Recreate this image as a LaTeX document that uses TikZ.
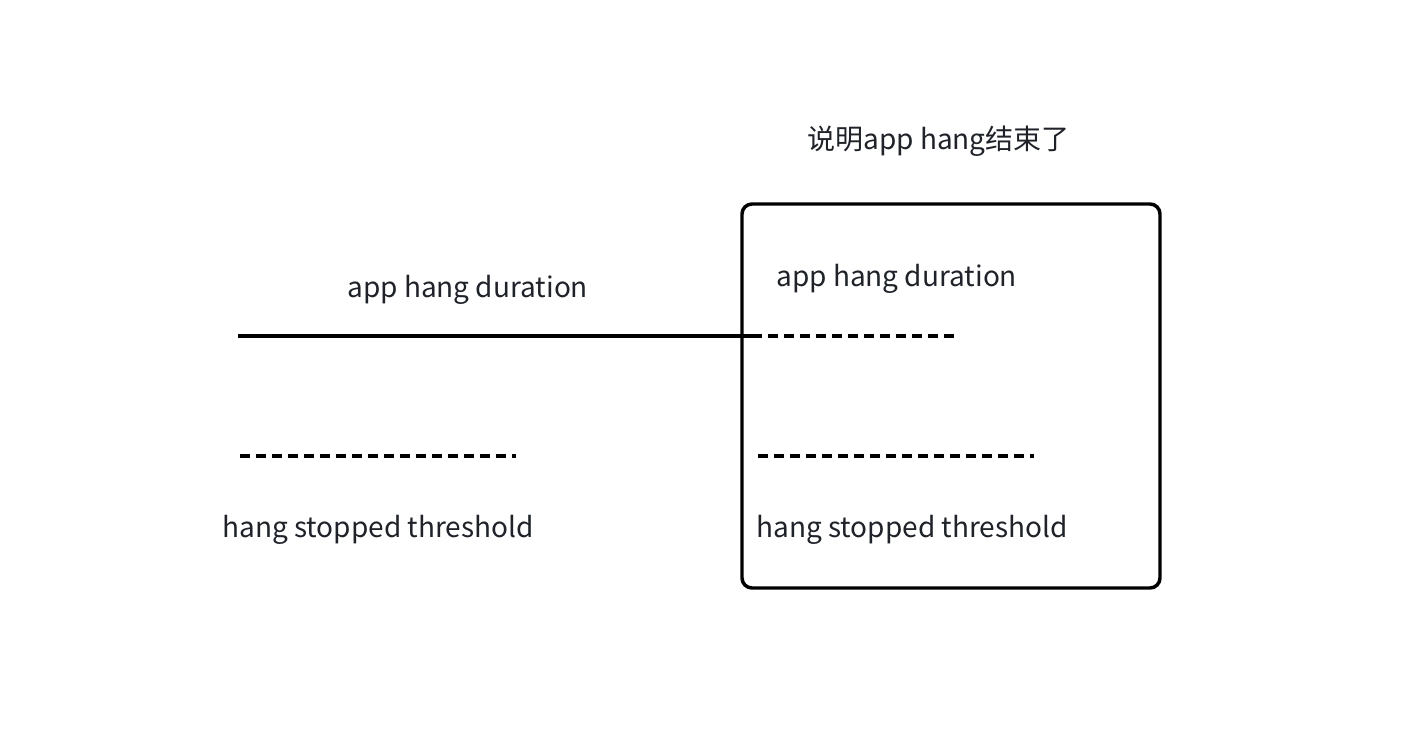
\documentclass[tikz,border=0pt]{standalone}
\usepackage{fontspec}
\setmainfont{Noto Sans CJK SC}
\usepackage{tikz}
\usetikzlibrary{positioning}
\definecolor{ink}{HTML}{1F2329}

\begin{document}
\begin{tikzpicture}[
            x = 0.75pt, y = -0.75pt, % pixel grid, y pointing down
            txt/.style = {font=\fontsize{21}{25}\selectfont, text=ink, inner sep=0pt, anchor=base west}, % labels
            solidline/.style = {line width=2.6pt}, % plain line
            dashline/.style = {line width=2.6pt, dash pattern=on 7.5pt off 4.5pt}, % dashed line
            frame/.style = {draw, line width=2.6pt, rounded corners=7.5pt, minimum width=313.5pt, minimum height=288pt} % box
        ]

	\useasboundingbox (0,0) rectangle (1406,738);

	\node[frame] (box) at (951,396) {};

	\node[txt] (title) at (807,150) {说明app hang结束了};
	\node[txt] (durL) at (347,297) {app hang duration};
	\node[txt] (durR) at (776,286) {app hang duration};
	\node[txt] (thrL) at (222,537) {hang stopped threshold};
	\node[txt] (thrR) at (756,537) {hang stopped threshold};

	\coordinate (d0) at (238,336);
	\coordinate (d1) at (752,336);
	\coordinate (d2) at (960,336);
	\coordinate (tl0) at (240,456);
	\coordinate (tl1) at (516,456);
	\coordinate (tr0) at (758,456);
	\coordinate (tr1) at (1034,456);

	\draw[solidline] (d0) -- (d1);
	\draw[dashline] (d1) -- (d2);
	\draw[dashline] (tl0) -- (tl1);
	\draw[dashline] (tr0) -- (tr1);

\end{tikzpicture}
\end{document}
